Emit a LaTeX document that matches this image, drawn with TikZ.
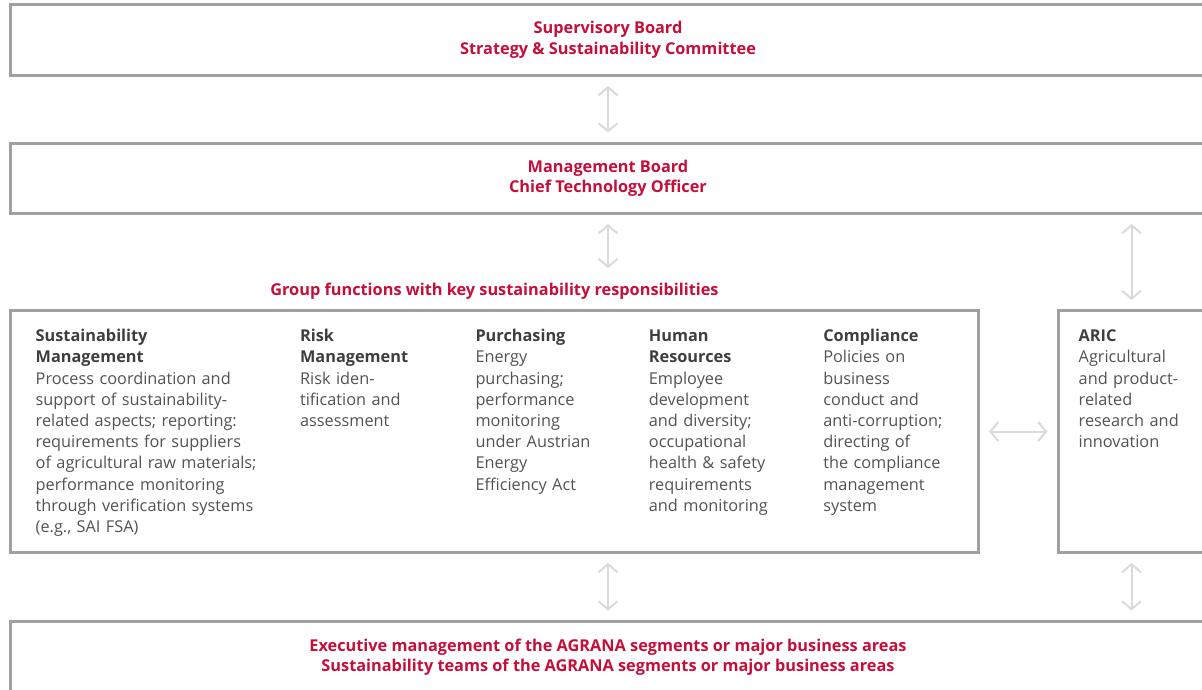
\documentclass[tikz,border=0pt]{standalone}
\usepackage{fontspec}
\setmainfont{Open Sans}
\usetikzlibrary{positioning,arrows.meta}

\definecolor{agrared}{RGB}{198,14,58}
\definecolor{framegray}{RGB}{160,160,160}
\definecolor{arrowgray}{RGB}{218,218,218}
\definecolor{bodygray}{RGB}{82,82,82}
\definecolor{headgray}{RGB}{62,62,62}

\newcommand{\colhead}[1]{\strut\textcolor{headgray}{\bfseries #1}}

\begin{document}
\begin{tikzpicture}[
  x=1pt, y=-1pt,
  boxstyle/.style={
        draw=framegray,
        line width=3pt,
        inner sep=0pt
  },
  redtext/.style={
        text=agrared,
        font=\fontsize{16.3}{20.5}\selectfont\bfseries,
        align=center
  },
  coltext/.style={
        text=bodygray,
        font=\fontsize{16.3}{21.2}\selectfont,
        align=left,
        inner sep=0pt
  },
  link/.style={
        draw=arrowgray,
        line width=2pt,
        {Straight Barb[length=8pt,width=19pt]}-{Straight Barb[length=8pt,width=19pt]},
        shorten <=9pt,
        shorten >=9pt
  }
]

    \useasboundingbox (0,0) rectangle (1202,689);

    % boards
    \node[boxstyle, redtext, minimum width=1195pt, minimum height=71pt] (super) at (608,40)
        {Supervisory Board\\Strategy \& Sustainability Committee};
    \node[boxstyle, redtext, minimum width=1195pt, minimum height=70.5pt] (mgmt) at (608,178.25)
        {Management Board\\Chief Technology Officer};

    % group functions
    \node[boxstyle, minimum width=968pt, minimum height=242pt] (group) at (494.5,431.5) {};
    \node[redtext, inner sep=0pt, above=9pt of group.north] (heading)
        {Group functions with key sustainability responsibilities};

    \node[boxstyle, minimum width=147pt, minimum height=242pt] (aric) at (1131.5,431.5) {};

    \node[boxstyle, redtext, minimum width=1195pt, minimum height=72pt] (exec) at (608,657)
        {Executive management of the AGRANA segments or major business areas\\
         Sustainability teams of the AGRANA segments or major business areas};

    % columns
    \node[coltext, text width=250pt, below right=17.7pt and 26.5pt of group.north west] (sm)
        {\colhead{Sustainability}\\\colhead{Management}\\
         Process coordination and\\support of sustainability-\\related aspects; reporting:\\
         requirements for suppliers\\of agricultural raw materials;\\performance monitoring\\
         through verification systems\\(e.g., SAI FSA)};
    \node[coltext, text width=161pt, right=14pt of sm.north east, anchor=north west] (risk)
        {\colhead{Risk}\\\colhead{Management}\\Risk iden-\\tification and\\assessment};
    \node[coltext, text width=159pt, right=14pt of risk.north east, anchor=north west] (purch)
        {\colhead{Purchasing}\\Energy\\purchasing;\\performance\\monitoring\\under Austrian\\
         Energy\\Efficiency Act};
    \node[coltext, text width=160pt, right=14pt of purch.north east, anchor=north west] (hr)
        {\colhead{Human}\\\colhead{Resources}\\Employee\\development\\and diversity;\\
         occupational\\health \& safety\\requirements\\and monitoring};
    \node[coltext, text width=140pt, right=14pt of hr.north east, anchor=north west] (comp)
        {\colhead{Compliance}\\Policies on\\business\\conduct and\\anti-corruption;\\
         directing of\\the compliance\\management\\system};

    \node[coltext, text width=120pt, below right=17.7pt and 22pt of aric.north west] (aricText)
        {\colhead{ARIC}\\Agricultural\\and product-\\related\\research and\\innovation};

    % connectors
    \draw[link] (super) -- (mgmt);
    \draw[link, shorten >=15pt] (mgmt.south) -- (mgmt.south |- heading.north);
    \draw[link] (mgmt.south -| aric.north) -- (aric.north);
    \draw[link] (group.east) -- (aric.west);
    \draw[link] (group.south -| exec.north) -- (exec.north);
    \draw[link] (aric.south) -- (aric.south |- exec.north);
\end{tikzpicture}
\end{document}
